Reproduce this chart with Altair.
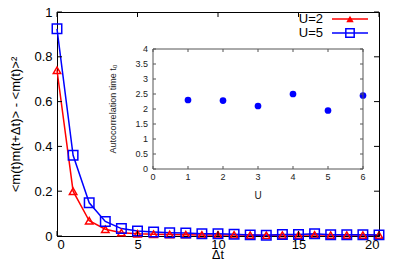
import altair as alt
import pandas as pd

# ---- data ----
dt = list(range(0, 21))
u2_vals = [0.74, 0.20, 0.068, 0.03, 0.015, 0.01, 0.008, 0.007, 0.006, 0.005, 0.005, 0.005,
           0.004, 0.003, 0.004, 0.004, 0.005, 0.004, 0.004, 0.004, 0.004]
u5_vals = [0.925, 0.36, 0.148, 0.065, 0.033, 0.022, 0.018, 0.015, 0.013, 0.010, 0.010, 0.008,
           0.005, 0.003, 0.007, 0.007, 0.010, 0.006, 0.006, 0.006, 0.005]
series_names = ["U=2", "U=5"]
series_colors = ["#ff0000", "#0000ff"]
series_shapes = ["triangle-up", "square"]

inset_U = [1, 2, 3, 4, 5, 6]
inset_tau = [2.3, 2.28, 2.1, 2.5, 1.95, 2.45]

main_xticks = [0, 5, 10, 15, 20]
main_yticks = [0, 0.2, 0.4, 0.6, 0.8, 1]
inset_xticks = [0, 1, 2, 3, 4, 5, 6]
inset_yticks = [0, 0.5, 1, 1.5, 2, 2.5, 3, 3.5, 4]
inset_xlabels = ["0", "1", "2", "3", "4", "5", "6"]
inset_ylabels = ["0", "0.5", "1", "1.5", "2", "2.5", "3", "3.5", "4"]
main_xdomain = [0, 20]
main_ydomain = [0, 1]
inset_xdomain = [0, 6]
inset_ydomain = [0, 4]
main_xtitle = "Δt"
main_ytitle = "<m(t)m(t+Δt)> - <m(t)>²"
inset_xtitle = "U"
inset_ytitle = "Autocorrelation time t₀"

# layout (page is 395x269 with 8px margin -> svg must be <= 379x253)
LEFT, TOP = 49, 4
W, H = 322, 224
RIGHT = 379 - LEFT - W
BOTTOM = 253 - TOP - H
PX, PY = 8 + LEFT, 8 + TOP   # page position of plot origin
FONT = "Liberation Sans"

df = pd.DataFrame({
    "t": dt * 2,
    "v": u2_vals + u5_vals,
    "series": [series_names[0]] * len(dt) + [series_names[1]] * len(dt),
})

xs = alt.Scale(domain=main_xdomain, nice=False, zero=False)
ys = alt.Scale(domain=main_ydomain, nice=False)
cs = alt.Scale(domain=series_names, range=series_colors)
ss = alt.Scale(domain=series_names, range=series_shapes)
sz = alt.Scale(domain=series_names, range=[55, 90])

X = alt.X("t:Q", scale=xs, title="",
          axis=alt.Axis(values=main_xticks, format="~g", ticks=False, grid=False,
                        labelFontSize=13, labelFont=FONT,
                        labelColor="black", domainColor="black", labelPadding=2))
Y = alt.Y("v:Q", scale=ys, title=main_ytitle,
          axis=alt.Axis(values=main_yticks, format="~g", ticks=False, grid=False,
                        labelFontSize=13, titleFontSize=13, labelFont=FONT, titleFont=FONT,
                        labelColor="black", titleColor="black", domainColor="black",
                        labelPadding=5, titlePadding=11, titleFontWeight="normal"))

base = alt.Chart(df)
lines = base.mark_line(strokeWidth=1.5).encode(
    x=X, y=Y, color=alt.Color("series:N", scale=cs, legend=None), detail="series:N")
points = base.mark_point(filled=False, strokeWidth=1.5, opacity=1).encode(
    x="t:Q", y="v:Q",
    color=alt.Color("series:N", scale=cs, legend=None),
    shape=alt.Shape("series:N", scale=ss, legend=None),
    size=alt.Size("series:N", scale=sz, legend=None))

# x-axis title as text (kept inside the page)
xt_df = pd.DataFrame({"s": [main_xtitle]})
xtitle = alt.Chart(xt_df).mark_text(fontSize=12.5, font=FONT, color="black",
                                    baseline="alphabetic").encode(
    x=alt.value(W / 2), y=alt.value(259 - PY), text="s:N")

# inward ticks for main frame
mxt = pd.DataFrame({"t": main_xticks})
myt = pd.DataFrame({"v": main_yticks})
tick_b = alt.Chart(mxt).mark_rule(color="black").encode(x="t:Q", y=alt.value(H), y2=alt.value(H - 5))
tick_t = alt.Chart(mxt).mark_rule(color="black").encode(x="t:Q", y=alt.value(0), y2=alt.value(5))
tick_l = alt.Chart(myt).mark_rule(color="black").encode(y="v:Q", x=alt.value(0), x2=alt.value(5))
tick_r = alt.Chart(myt).mark_rule(color="black").encode(y="v:Q", x=alt.value(W), x2=alt.value(W - 5))

# legend (top right)
leg = []
leg_y = [19 - PY, 33 - PY]
for name, col, shp, yy, filled, size in zip(series_names, series_colors, series_shapes, leg_y,
                                             [True, False], [55, 70]):
    ldf = pd.DataFrame({"s": [name]})
    leg.append(alt.Chart(ldf).mark_text(align="right", baseline="middle", fontSize=13, font=FONT,
                                        color="black").encode(
        x=alt.value(323 - PX), y=alt.value(yy), text="s:N"))
    leg.append(alt.Chart(ldf).mark_rule(color=col, strokeWidth=1.5).encode(
        x=alt.value(332 - PX), x2=alt.value(368 - PX), y=alt.value(yy)))
    leg.append(alt.Chart(ldf).mark_point(shape=shp, filled=filled, color=col, size=size,
                                         strokeWidth=1.5, opacity=1).encode(
        x=alt.value(350 - PX), y=alt.value(yy)))

main_layer = alt.layer(lines, points, xtitle, tick_b, tick_t, tick_l, tick_r, *leg)

# ---- inset ----  (page coords: x 153-363, y 49-169)
IX0, IX1 = 153 - PX, 363 - PX
IY0, IY1 = 169 - PY, 49 - PY
ixs = alt.Scale(domain=inset_xdomain, range=[IX0, IX1], nice=False, zero=False)
iys = alt.Scale(domain=inset_ydomain, range=[IY0, IY1], nice=False)
idf = pd.DataFrame({"U": inset_U, "tau": inset_tau})

inset_pts = alt.Chart(idf).mark_circle(color="#0000ff", size=45, opacity=1).encode(
    x=alt.X("U:Q", scale=ixs, axis=None), y=alt.Y("tau:Q", scale=iys, axis=None))
frame_df = pd.DataFrame({"x0": [inset_xdomain[0]], "x1": [inset_xdomain[1]],
                         "y0": [inset_ydomain[0]], "y1": [inset_ydomain[1]]})
frame = alt.Chart(frame_df).mark_rect(fillOpacity=0, stroke="#555", strokeWidth=1).encode(
    x=alt.X("x0:Q"), x2="x1:Q", y=alt.Y("y0:Q"), y2="y1:Q")
ixt = pd.DataFrame({"U": inset_xticks, "lab": inset_xlabels})
iyt = pd.DataFrame({"tau": inset_yticks, "lab": inset_ylabels})
itick_b = alt.Chart(ixt).mark_rule(color="#555").encode(x="U:Q", y=alt.value(IY0), y2=alt.value(IY0 - 3))
itick_t = alt.Chart(ixt).mark_rule(color="#555").encode(x="U:Q", y=alt.value(IY1), y2=alt.value(IY1 + 3))
itick_l = alt.Chart(iyt).mark_rule(color="#555").encode(y="tau:Q", x=alt.value(IX0), x2=alt.value(IX0 + 3))
itick_r = alt.Chart(iyt).mark_rule(color="#555").encode(y="tau:Q", x=alt.value(IX1), x2=alt.value(IX1 - 3))
ixlab = alt.Chart(ixt).mark_text(fontSize=9, font=FONT, color="#222", baseline="top").encode(
    x="U:Q", y=alt.value(IY0 + 4), text="lab:N")
iylab = alt.Chart(iyt).mark_text(fontSize=9, font=FONT, color="#222", align="right",
                                 baseline="middle").encode(
    y="tau:Q", x=alt.value(IX0 - 5), text="lab:N")
ttl_df = pd.DataFrame({"xt": [inset_xtitle], "yt": [inset_ytitle]})
ixtitle = alt.Chart(ttl_df).mark_text(fontSize=10, font=FONT, color="#222", baseline="middle").encode(
    x=alt.value((IX0 + IX1) / 2), y=alt.value(IY0 + 27), text="xt:N")
iytitle = alt.Chart(ttl_df).mark_text(fontSize=9, font=FONT, color="#222", angle=270,
                                      baseline="middle").encode(
    x=alt.value(IX0 - 40), y=alt.value((IY0 + IY1) / 2), text="yt:N")

inset_layer = alt.layer(inset_pts, frame, itick_b, itick_t, itick_l, itick_r,
                        ixlab, iylab, ixtitle, iytitle)

chart = alt.layer(main_layer, inset_layer).resolve_scale(
    x="independent", y="independent", color="independent"
).properties(
    width=W, height=H,
    autosize=alt.AutoSizeParams(type="none"),
    padding={"left": LEFT, "top": TOP, "right": RIGHT, "bottom": BOTTOM},
).configure_view(stroke="black", strokeWidth=1)

chart.save("out.html", embed_options={"renderer": "svg", "actions": False})
